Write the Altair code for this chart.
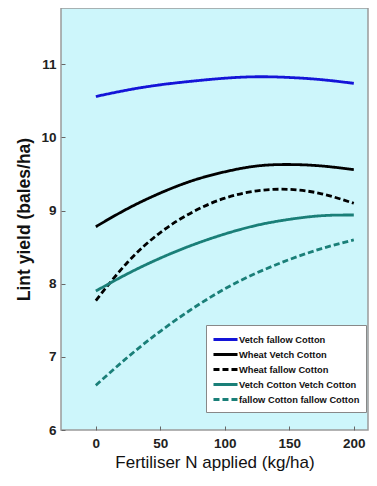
import altair as alt
import pandas as pd

n_rates = [0, 25, 50, 75, 100, 125, 150, 175, 200]
series = [
    "Vetch fallow Cotton",
    "Wheat Vetch Cotton",
    "Wheat  fallow Cotton",
    "Vetch Cotton Vetch Cotton",
    "fallow Cotton fallow Cotton",
]
vetch_fallow_cotton = [10.56, 10.65, 10.72, 10.77, 10.81, 10.83, 10.82, 10.79, 10.74]
wheat_vetch_cotton = [8.78, 9.03, 9.24, 9.41, 9.53, 9.61, 9.63, 9.61, 9.56]
wheat_fallow_cotton = [7.77, 8.30, 8.70, 8.98, 9.17, 9.27, 9.29, 9.23, 9.10]
vetch_cotton_vetch_cotton = [7.90, 8.14, 8.35, 8.53, 8.68, 8.80, 8.88, 8.93, 8.94]
fallow_cotton_fallow_cotton = [6.61, 7.00, 7.35, 7.66, 7.93, 8.15, 8.33, 8.48, 8.60]

values = [vetch_fallow_cotton, wheat_vetch_cotton, wheat_fallow_cotton,
          vetch_cotton_vetch_cotton, fallow_cotton_fallow_cotton]
rows = []
for name, vals in zip(series, values):
    for x, y in zip(n_rates, vals):
        rows.append({"N": x, "yield": y, "rotation": name})
df = pd.DataFrame(rows)

colors = ["#1414d8", "#000000", "#000000", "#1a7f78", "#1a7f78"]
dashes = [[1, 0], [1, 0], [6, 3], [1, 0], [6, 3]]

chart = alt.Chart(df).mark_line(interpolate="natural", strokeWidth=2.8).encode(
    x=alt.X("N:Q", scale=alt.Scale(domain=[-27, 211], nice=False, zero=False),
            axis=alt.Axis(values=[0, 50, 100, 150, 200], title="Fertiliser N applied (kg/ha)",
                          grid=False, tickSize=4, offset=-4, labelPadding=6,
                          titleFontWeight="normal", titleFontSize=17, titlePadding=5)),
    y=alt.Y("yield:Q", scale=alt.Scale(domain=[6, 11.77], nice=False, zero=False),
            axis=alt.Axis(values=[6, 7, 8, 9, 10, 11], title="Lint yield (bales/ha)",
                          grid=False, tickSize=4, offset=-4, labelPadding=5,
                          titleFontWeight="bold", titleFontSize=17.5, titlePadding=7)),
    color=alt.Color("rotation:N", sort=series,
                    scale=alt.Scale(domain=series, range=colors),
                    legend=alt.Legend(title=None)),
    strokeDash=alt.StrokeDash("rotation:N", sort=series,
                              scale=alt.Scale(domain=series, range=dashes),
                              legend=alt.Legend(title=None)),
    detail="rotation:N",
).properties(
    width=307, height=422,
    autosize=alt.AutoSizeParams(type="none"),
    padding={"left": 53, "top": 0, "right": 1, "bottom": 44},
    background="white",
).configure_view(
    fill="#cdf6fb", stroke="#9a9a9a", strokeWidth=1.5,
).configure_axis(
    labelFont="Liberation Sans", titleFont="Liberation Sans",
    labelFontSize=13.5, labelFontWeight="bold", labelColor="#222222",
    titleColor="#111111", domain=False, tickColor="#666666",
).configure_legend(
    orient="none", legendX=145, legendY=317,
    fillColor="white", strokeColor="#888888", padding=6,
    labelFont="Liberation Sans", labelFontSize=9.3, labelFontWeight="bold",
    labelColor="#111111", symbolType="M-1.7,0H1.7", symbolStrokeWidth=2.8,
    symbolSize=200, symbolOffset=5, rowPadding=0, labelOffset=5, labelLimit=200,
)

chart.save("out.html", embed_options={"renderer": "svg", "actions": False})
